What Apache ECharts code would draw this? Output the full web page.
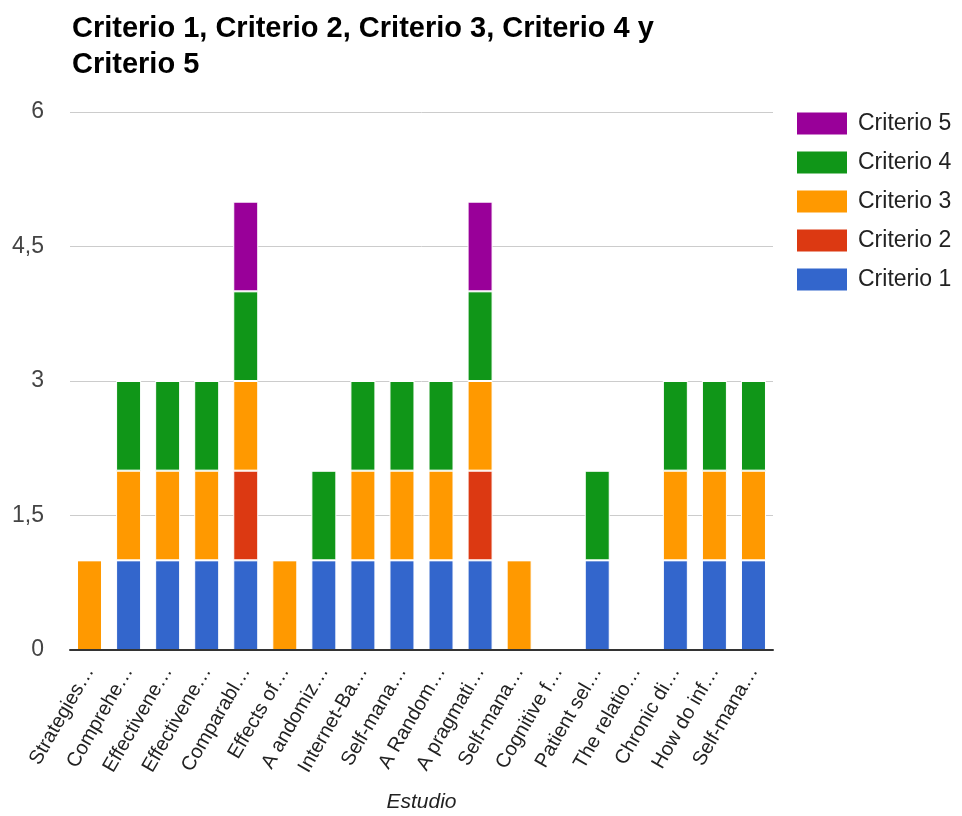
<!DOCTYPE html>
<html><head><meta charset="utf-8">
<script src="https://cdn.jsdelivr.net/npm/echarts@6/dist/echarts.min.js"></script>
<style>html,body{margin:0;padding:0;background:#fff}#c{width:962px;height:816px}</style>
</head><body><div id="c"></div>
<script>
const categories = ["Strategies…","Comprehe…","Effectivene…","Effectivene…","Comparabl…","Effects of…","A andomiz…","Internet-Ba…","Self-mana…","A Random…","A pragmati…","Self-mana…","Cognitive f…","Patient sel…","The relatio…","Chronic di…","How do inf…","Self-mana…"];
const criterio1 = [0,1,1,1,1,0,1,1,1,1,1,0,0,1,0,1,1,1];
const criterio2 = [0,0,0,0,1,0,0,0,0,0,1,0,0,0,0,0,0,0];
const criterio3 = [1,1,1,1,1,1,0,1,1,1,1,1,0,0,0,1,1,1];
const criterio4 = [0,1,1,1,1,0,1,1,1,1,1,0,0,1,0,1,1,1];
const criterio5 = [0,0,0,0,1,0,0,0,0,0,1,0,0,0,0,0,0,0];
const yTicks = {min:0, max:6, interval:1.5};
const seriesNames = ["Criterio 1","Criterio 2","Criterio 3","Criterio 4","Criterio 5"];
const colors = ["#3366cc","#dc3912","#ff9900","#109618","#990099"];
const data = [criterio1,criterio2,criterio3,criterio4,criterio5];

const chart = echarts.init(document.getElementById('c'));
const font = "Liberation Sans, Arial, sans-serif";
chart.setOption({
  animation:false,
  textStyle:{fontFamily:font},
  title:{
    text:"Criterio 1, Criterio 2, Criterio 3, Criterio 4 y\nCriterio 5",
    left:67, top:0, padding:[11,5],
    textStyle:{fontFamily:font,fontWeight:'bold',fontSize:29,color:'#000',lineHeight:36}
  },
  legend:{
    orient:'vertical', left:797, top:112, padding:0,
    itemWidth:50, itemHeight:22, itemGap:16, icon:'rect',
    data:seriesNames.slice().reverse(),
    textStyle:{fontFamily:font,fontSize:23,color:'#222',padding:[0,0,0,6]},
    itemStyle:{borderWidth:0}
  },
  grid:{left:70, right:189, top:112, bottom:166, containLabel:false, outerBoundsMode:'none'},
  xAxis:{
    type:'category', data:categories, z:10,
    name:'Estudio', nameLocation:'middle', nameGap:142,
    nameTextStyle:{fontFamily:font,fontStyle:'italic',fontSize:21,color:'#222'},
    axisLine:{lineStyle:{color:'#333',width:2}},
    axisTick:{show:false},
    axisLabel:{rotate:60, interval:0, fontSize:20, color:'#222', fontFamily:font, margin:18}
  },
  yAxis:{
    type:'value', min:yTicks.min, max:yTicks.max, interval:yTicks.interval,
    axisLine:{show:false}, axisTick:{show:false},
    splitLine:{lineStyle:{color:'#cccccc',width:1}},
    axisLabel:{fontSize:23,color:'#444',fontFamily:font,margin:26,
      formatter:v=>String(v).replace('.',',')}
  },
  series: seriesNames.map((n,i)=>({
    name:n, type:'bar', stack:'total', data:data[i],
    barCategoryGap:'36%',
    itemStyle:{color:colors[i], borderColor:'#ffffff', borderWidth:1}
  }))
});
</script></body></html>
